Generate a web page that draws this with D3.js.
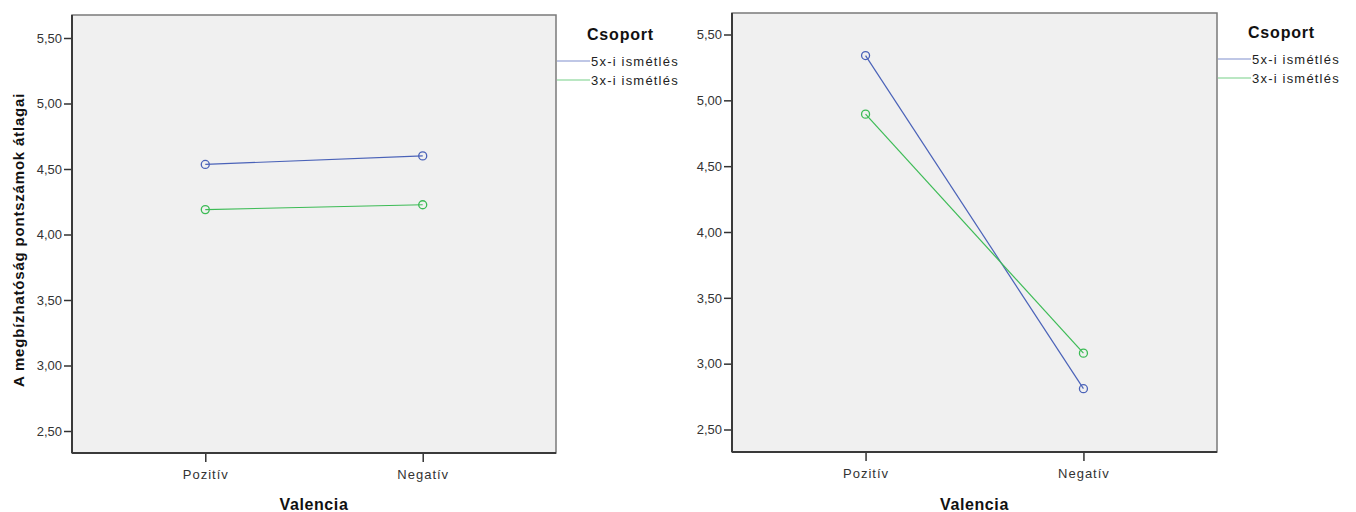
<!DOCTYPE html>
<html><head><meta charset="utf-8">
<script src="https://cdn.jsdelivr.net/npm/d3@7"></script>
<style>
body{margin:0;background:#fff;}
text{font-family:"Liberation Sans",Arial,sans-serif;}
</style></head>
<body><svg id="c" width="1356" height="512"></svg>
<script>
const categories = ["Pozitív", "Negatív"];
const seriesNames = ["5x-i ismétlés", "3x-i ismétlés"];
const leftValues5x = [4.535, 4.60];
const leftValues3x = [4.19, 4.227];
const rightValues5x = [5.34, 2.81];
const rightValues3x = [4.895, 3.08];
const yTicks = [2.5, 3.0, 3.5, 4.0, 4.5, 5.0, 5.5];
const colors = ["#4a62b8", "#3cbb55"];
const yTitle = "A megbízhatóság pontszámok átlagai";
const xTitle = "Valencia";
const legendTitle = "Csoport";

const svg = d3.select("#c");
const fmt = d => d3.format(".2f")(d).replace(".", ",");

function panel(p, series, showY) {
  const g = svg.append("g");
  const x = d3.scalePoint().domain(categories).range([p.left, p.right]).padding(0.613);
  const y = d3.scaleLinear().domain([2.5, 5.5]).range([p.y25, p.y55]);
  g.append("rect").attr("x", p.left).attr("y", p.top).attr("width", p.right - p.left)
    .attr("height", p.bottom - p.top).attr("fill", "#f0f0f0").attr("stroke", "#7a7a7a").attr("stroke-width", 1.5);
  // y axis
  const ya = g.append("g").attr("transform", `translate(${p.left},0)`)
    .call(d3.axisLeft(y).tickValues(yTicks).tickFormat(fmt).tickSize(8).tickPadding(2));
  ya.select(".domain").remove();
  ya.selectAll("line").attr("stroke", "#333").attr("stroke-width", 1.5);
  ya.selectAll("text").attr("font-size", 13).attr("fill", "#333");
  // x axis
  const xa = g.append("g").attr("transform", `translate(0,${p.bottom})`)
    .call(d3.axisBottom(x).tickSize(9).tickPadding(8));
  xa.select(".domain").remove();
  xa.selectAll("line").attr("stroke", "#333").attr("stroke-width", 1.5);
  xa.selectAll("text").attr("font-size", 13).attr("letter-spacing", 1).attr("fill", "#333");
  g.append("line").attr("x1", p.left).attr("x2", p.left).attr("y1", p.top).attr("y2", p.bottom)
    .attr("stroke", "#3a3a3a").attr("stroke-width", 2);
  g.append("line").attr("x1", p.left).attr("x2", p.right).attr("y1", p.bottom).attr("y2", p.bottom)
    .attr("stroke", "#3a3a3a").attr("stroke-width", 2);
  // lines
  const line = d3.line().x((d, i) => x(categories[i])).y(d => y(d));
  series.forEach((vals, si) => {
    g.append("path").datum(vals).attr("d", line).attr("fill", "none")
      .attr("stroke", colors[si]).attr("stroke-width", 1.2);
    g.selectAll(null).data(vals).enter().append("circle")
      .attr("cx", (d, i) => x(categories[i])).attr("cy", d => y(d)).attr("r", 4)
      .attr("fill", "none").attr("stroke", colors[si]).attr("stroke-width", 1.3);
  });
  // x title
  g.append("text").attr("x", (p.left + p.right) / 2).attr("y", 510).attr("text-anchor", "middle")
    .attr("font-size", 16).attr("letter-spacing", 0.6).attr("font-weight", "bold").attr("fill", "#111").text(xTitle);
  if (showY) {
    g.append("text").attr("transform", `translate(24,${(p.top + p.bottom) / 2 + 6}) rotate(-90)`)
      .attr("text-anchor", "middle").attr("font-size", 15).attr("letter-spacing", 0.8)
      .attr("font-weight", "bold").attr("fill", "#111").text(yTitle);
  }
  // legend
  g.append("text").attr("x", p.right + 31).attr("y", p.top + 25).attr("font-size", 16).attr("letter-spacing", 0.8)
    .attr("font-weight", "bold").attr("fill", "#111").text(legendTitle);
  seriesNames.forEach((n, i) => {
    const yy = p.top + 46 + i * 19;
    g.append("line").attr("x1", p.right + 1).attr("x2", p.right + 34).attr("y1", yy).attr("y2", yy)
      .attr("stroke", colors[i]).attr("stroke-width", 1.2).attr("stroke-opacity", 0.7);
    g.append("text").attr("x", p.right + 35).attr("y", yy + 5).attr("font-size", 13).attr("letter-spacing", 1.2)
      .attr("fill", "#222").text(n);
  });
}

panel({left: 72, right: 556, top: 15, bottom: 453, y25: 431, y55: 38},
      [leftValues5x, leftValues3x], true);
panel({left: 732, right: 1217, top: 13, bottom: 452, y25: 429.5, y55: 34.5},
      [rightValues5x, rightValues3x], false);
</script></body></html>
